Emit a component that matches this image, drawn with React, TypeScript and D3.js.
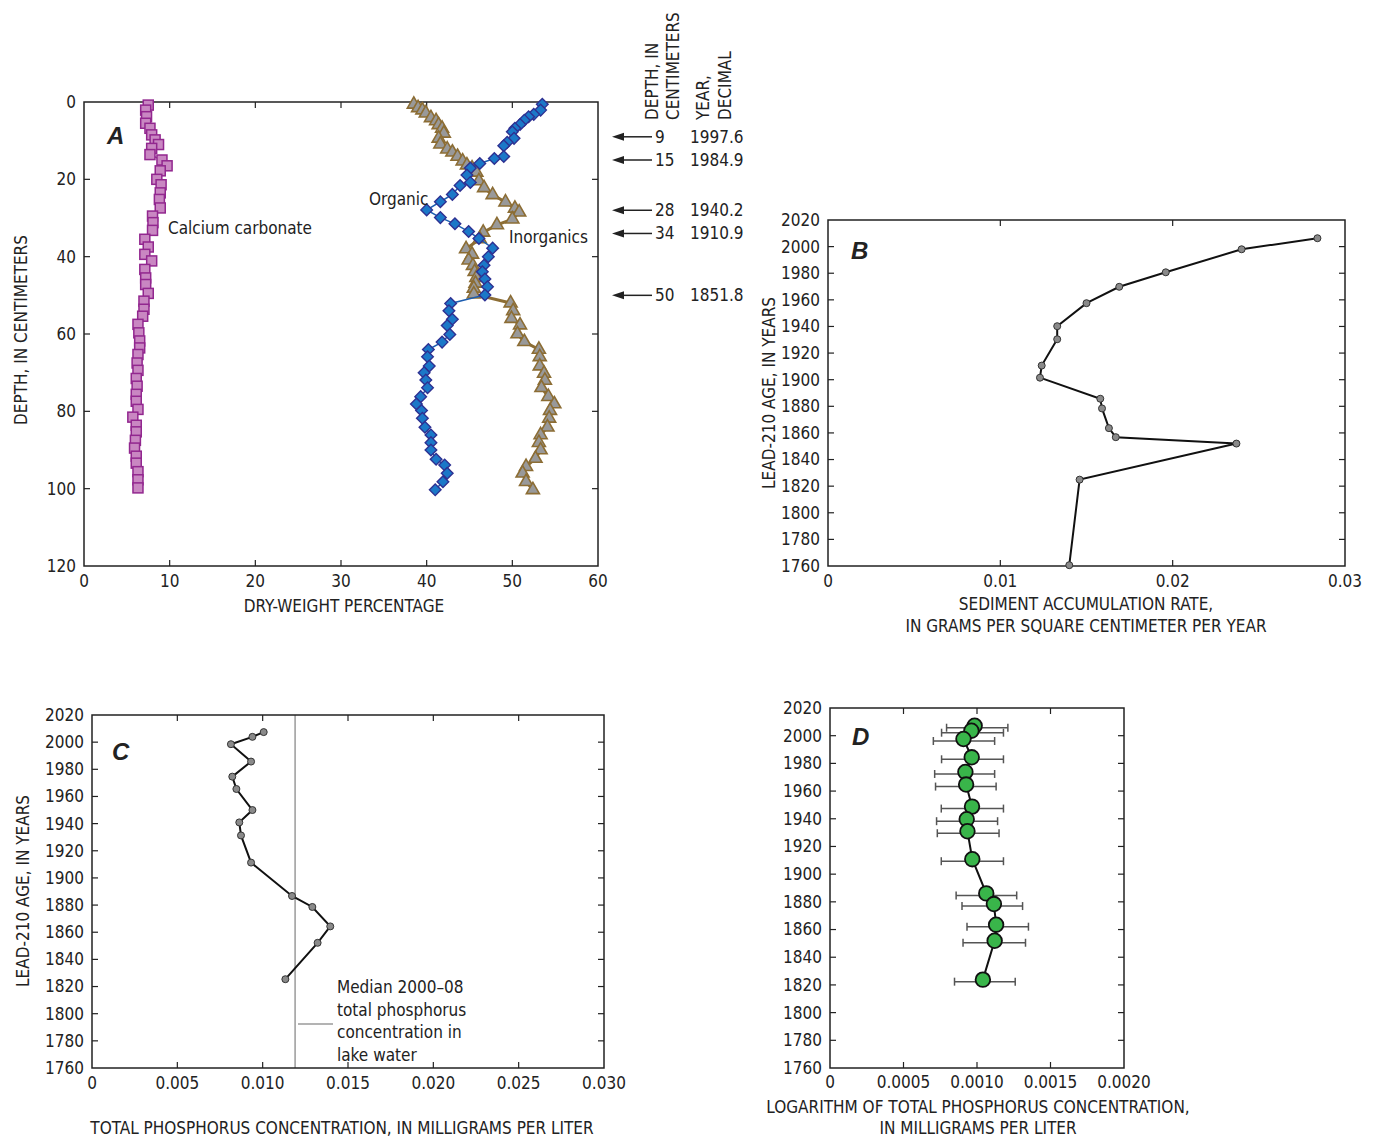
import React from 'react';
import * as d3 from 'd3';

const FONT = '"Liberation Sans Narrow", "DejaVu Sans Condensed", "Roboto", sans-serif';
const BOLD = '"Liberation Sans", "DejaVu Sans", sans-serif';

// ---- Panel A: core composition (depth in cm, dry-weight %)
const caDepth = [0.8, 2.1, 3.8, 5.5, 6.8, 8.5, 9.8, 11, 12, 13.6, 15, 16.5, 17.8, 20, 21.4, 23.5, 25.2, 27.4, 29.5, 31.2, 33.2, 35.5, 37.5, 39.4, 41.1, 43.3, 45.5, 47.2, 49.5, 51.5, 53.6, 55.4, 57.5, 59.7, 61.8, 63.6, 65.3, 67.5, 69.4, 71.5, 73.5, 75.6, 77.4, 79.5, 81.5, 83.6, 85.3, 87.5, 89.5, 91.6, 93.4, 95.6, 97.7, 99.8];
const caPct = [7.5, 7.2, 7.3, 7.2, 7.7, 7.9, 8.3, 8.7, 7.9, 7.7, 9.1, 9.7, 8.9, 8.5, 9.0, 8.9, 8.8, 8.9, 8.0, 8.05, 8.0, 7.1, 7.5, 7.1, 7.9, 7.1, 7.2, 7.2, 7.5, 7.0, 7.0, 6.85, 6.3, 6.4, 6.5, 6.5, 6.3, 6.2, 6.3, 6.1, 6.2, 6.1, 6.1, 6.3, 5.7, 6.1, 6.1, 6.0, 5.9, 6.1, 6.1, 6.3, 6.3, 6.3];

const orgDepth = [0.6, 2.1, 3.2, 3.8, 4.7, 5.8, 6.8, 7.7, 9.4, 10.4, 11.3, 14.1, 14.6, 15.9, 17.1, 18.9, 20.8, 21.6, 23.9, 25.8, 27.9, 29.9, 31.5, 33.5, 35.3, 37.8, 40.0, 42.2, 43.9, 45.8, 47.8, 49.9, 52.1, 54.0, 56.2, 57.8, 60.1, 62.1, 64.0, 65.9, 68.3, 70.0, 71.9, 73.9, 76.2, 78.1, 79.8, 81.8, 84.1, 86.1, 88.1, 90.0, 92.4, 93.9, 96.0, 98.2, 100.3];
const orgPct = [53.5, 53.3, 52.5, 51.9, 51.4, 50.9, 50.3, 50.0, 50.2, 49.4, 49.0, 49.0, 47.9, 46.2, 45.1, 44.7, 45.1, 43.9, 43.0, 41.6, 40.0, 41.6, 43.3, 44.9, 46.1, 47.7, 47.2, 46.7, 46.5, 46.8, 47.1, 46.8, 42.8, 42.6, 43.0, 42.4, 42.7, 41.8, 40.2, 40.1, 40.3, 39.7, 39.9, 40.1, 39.3, 38.8, 39.4, 39.5, 39.8, 40.5, 40.5, 40.5, 41.1, 42.1, 42.4, 41.9, 41.0];

const inoDepth = [0.6, 1.5, 2.1, 2.9, 4.1, 4.9, 5.9, 6.8, 8.1, 9.4, 10.9, 12.2, 13.0, 14.1, 15.3, 16.3, 17.1, 18.2, 20.4, 22.2, 24.0, 25.9, 27.5, 28.5, 30.3, 31.8, 33.7, 35.4, 38.0, 39.4, 40.9, 42.3, 43.9, 45.4, 46.9, 48.2, 49.7, 52.0, 54.0, 56.0, 57.7, 60.0, 62.0, 64.0, 65.9, 68.3, 70.2, 72.0, 73.9, 76.2, 78.1, 79.8, 81.8, 84.1, 86.1, 88.1, 90.0, 92.2, 94.3, 96.0, 98.2, 100.3];
const inoPct = [38.5, 39.0, 39.5, 39.9, 40.5, 41.1, 41.4, 41.8, 42.0, 41.4, 41.6, 42.4, 43.0, 43.6, 44.2, 44.7, 45.3, 45.8, 46.1, 46.7, 47.7, 49.2, 50.3, 50.8, 50.0, 48.2, 46.6, 46.2, 44.6, 45.3, 44.9, 45.4, 45.6, 45.8, 45.7, 45.5, 45.5, 49.8, 50.1, 49.9, 50.9, 50.6, 51.4, 53.1, 53.2, 53.2, 53.7, 53.8, 53.4, 54.2, 54.9, 54.4, 54.3, 54.1, 53.3, 53.1, 53.3, 52.7, 51.6, 51.2, 51.6, 52.4];

const markDepth = [9, 15, 28, 34, 50];
const markYear = ['1997.6', '1984.9', '1940.2', '1910.9', '1851.8'];

// ---- Panel B: sediment accumulation rate
const bYear = [2006.3, 1998.0, 1980.7, 1969.8, 1957.5, 1940.2, 1930.4, 1910.6, 1901.5, 1885.7, 1878.4, 1863.6, 1856.8, 1852.0, 1824.9, 1760.6];
const bRate = [0.0284, 0.0240, 0.0196, 0.0169, 0.0150, 0.0133, 0.0133, 0.0124, 0.0123, 0.0158, 0.0159, 0.0163, 0.0167, 0.0237, 0.0146, 0.0140];

// ---- Panel C: total phosphorus
const cYear = [2007.4, 2003.9, 1998.5, 1985.7, 1974.6, 1965.5, 1950.0, 1940.9, 1931.3, 1911.3, 1886.7, 1878.6, 1864.3, 1852.2, 1825.4];
const cConc = [0.01006, 0.0094, 0.00814, 0.00932, 0.00822, 0.00846, 0.0094, 0.00863, 0.00873, 0.00932, 0.01172, 0.01291, 0.01396, 0.01322, 0.01133];
const cMedian = 0.0119;

// ---- Panel D: log total phosphorus with error bars
const dYear = [2007.2, 2003.6, 1997.6, 1984.4, 1973.8, 1964.7, 1948.8, 1939.7, 1931.0, 1910.8, 1886.1, 1878.4, 1863.5, 1851.9, 1823.8];
const dVal = [0.000984, 0.000962, 0.000908, 0.000964, 0.000921, 0.000926, 0.000966, 0.00093, 0.000935, 0.000968, 0.001063, 0.001115, 0.00113, 0.00112, 0.00104];
const dLo = [0.000793, 0.000759, 0.000703, 0.000759, 0.000712, 0.000718, 0.000757, 0.000725, 0.00073, 0.000757, 0.000858, 0.000898, 0.000932, 0.000905, 0.000847];
const dHi = [0.00121, 0.00118, 0.00112, 0.00118, 0.00112, 0.00113, 0.00118, 0.00114, 0.00115, 0.00118, 0.00127, 0.00131, 0.00135, 0.00133, 0.00126];

const yearTicks = d3.range(1760, 2021, 20);

type Scale = d3.ScaleLinear<number, number>;

function Frame({ x, y, xTicks, yTicks, xFmt, labelDy = 21 }: { x: Scale; y: Scale; xTicks: number[]; yTicks: number[]; xFmt: (v: number) => string; labelDy?: number }) {
  const [x0, x1] = x.range();
  const [y1, y0] = y.range();
  const top = Math.min(y0, y1), bot = Math.max(y0, y1);
  const t = 6;
  return (
    <g>
      <rect x={x0} y={top} width={x1 - x0} height={bot - top} fill="none" stroke="#222" strokeWidth={1.5} />
      {xTicks.map((v, i) => (
        <g key={'x' + i}>
          {x(v) > x0 + 1 && x(v) < x1 - 1 && (
            <>
              <line x1={x(v)} x2={x(v)} y1={bot} y2={bot - t} stroke="#222" strokeWidth={1.2} />
              <line x1={x(v)} x2={x(v)} y1={top} y2={top + t} stroke="#222" strokeWidth={1.2} />
            </>
          )}
          <text x={x(v)} y={bot + labelDy} textAnchor="middle" fontSize={17} fontFamily={FONT} fill="#222">{xFmt(v)}</text>
        </g>
      ))}
      {yTicks.map((v, i) => (
        <g key={'y' + i}>
          {y(v) > top + 1 && y(v) < bot - 1 && (
            <>
              <line x1={x0} x2={x0 + t} y1={y(v)} y2={y(v)} stroke="#222" strokeWidth={1.2} />
              <line x1={x1} x2={x1 - t} y1={y(v)} y2={y(v)} stroke="#222" strokeWidth={1.2} />
            </>
          )}
          <text x={x0 - 8} y={y(v)} dy="0.35em" textAnchor="end" fontSize={17} fontFamily={FONT} fill="#222">{v}</text>
        </g>
      ))}
    </g>
  );
}

function PanelLetter({ x, y, s }: { x: number; y: number; s: string }) {
  return <text x={x} y={y} fontSize={24} fontWeight="bold" fontStyle="italic" fontFamily={BOLD} fill="#222">{s}</text>;
}

function PanelA() {
  const x = d3.scaleLinear().domain([0, 60]).range([84, 598]);
  const y = d3.scaleLinear().domain([0, 120]).range([102, 566]);
  const line = (dep: number[], pct: number[]) =>
    d3.line<number>().x((_, i) => x(pct[i])).y(d => y(d))(dep) || '';
  return (
    <g>
      <Frame x={x} y={d3.scaleLinear().domain([120, 0]).range([102, 566]).range([566, 102]) as Scale} xTicks={d3.range(0, 61, 10)} yTicks={[]} xFmt={v => String(v)} />
      {d3.range(0, 121, 20).map(v => (
        <g key={v}>
          {v > 0 && v < 120 && (
            <>
              <line x1={84} x2={90} y1={y(v)} y2={y(v)} stroke="#222" strokeWidth={1.2} />
              <line x1={598} x2={592} y1={y(v)} y2={y(v)} stroke="#222" strokeWidth={1.2} />
            </>
          )}
          <text x={76} y={y(v)} dy="0.35em" textAnchor="end" fontSize={17} fontFamily={FONT} fill="#222">{v}</text>
        </g>
      ))}
      <PanelLetter x={107} y={144} s="A" />

      <path d={line(caDepth, caPct)} fill="none" stroke="#92278f" strokeWidth={1.5} />
      {caDepth.map((d, i) => (
        <rect key={i} x={x(caPct[i]) - 5} y={y(d) - 5} width={10} height={10} fill="#c987c2" stroke="#92278f" strokeWidth={1.5} />
      ))}

      <path d={line(inoDepth, inoPct)} fill="none" stroke="#8c6d34" strokeWidth={3} />
      {inoDepth.map((d, i) => {
        const cx = x(inoPct[i]), cy = y(d);
        return <path key={i} d={`M${cx},${cy - 7.5}L${cx + 6.5},${cy + 3.8}L${cx - 6.5},${cy + 3.8}Z`} fill="#999" stroke="#8c6d34" strokeWidth={1.6} />;
      })}

      <path d={line(orgDepth, orgPct)} fill="none" stroke="#1c5db0" strokeWidth={1.5} />
      {orgDepth.map((d, i) => {
        const cx = x(orgPct[i]), cy = y(d), r = 5.8;
        return <path key={i} d={`M${cx},${cy - r}L${cx + r},${cy}L${cx},${cy + r}L${cx - r},${cy}Z`} fill="#1b78c8" stroke="#2e3192" strokeWidth={1.4} />;
      })}

      <text x={168} y={234} fontSize={17} fontFamily={FONT} fill="#222">Calcium carbonate</text>
      <text x={369} y={205} fontSize={17} fontFamily={FONT} fill="#222">Organic</text>
      <text x={509} y={243} fontSize={17} fontFamily={FONT} fill="#222">Inorganics</text>

      <text transform="translate(344,612)" textAnchor="middle" fontSize={17} fontFamily={FONT} fill="#222">DRY-WEIGHT PERCENTAGE</text>
      <text transform="translate(27,330) rotate(-90)" textAnchor="middle" fontSize={17} fontFamily={FONT} fill="#222">DEPTH, IN CENTIMETERS</text>

      {[['DEPTH, IN', 658], ['CENTIMETERS', 679], ['YEAR,', 709], ['DECIMAL', 731]].map(([s, bx]) => (
        <text key={s as string} transform={`translate(${bx},120) rotate(-90)`} fontSize={17} fontFamily={FONT} fill="#222">{s}</text>
      ))}
      {markDepth.map((d, i) => (
        <g key={d}>
          <line x1={652} x2={620} y1={y(d)} y2={y(d)} stroke="#222" strokeWidth={1.5} />
          <path d={`M612,${y(d)}L624,${y(d) - 4}L624,${y(d) + 4}Z`} fill="#222" />
          <text x={655} y={y(d)} dy="0.35em" fontSize={17} fontFamily={FONT} fill="#222">{d}</text>
          <text x={690} y={y(d)} dy="0.35em" fontSize={17} fontFamily={FONT} fill="#222">{markYear[i]}</text>
        </g>
      ))}
    </g>
  );
}

function PanelB() {
  const x = d3.scaleLinear().domain([0, 0.03]).range([828, 1345]);
  const y = d3.scaleLinear().domain([1760, 2020]).range([566, 220]);
  const path = d3.line<number>().x((_, i) => x(bRate[i])).y(d => y(d))(bYear) || '';
  return (
    <g>
      <Frame x={x} y={y} xTicks={[0, 0.01, 0.02, 0.03]} yTicks={yearTicks} xFmt={v => (v === 0 ? '0' : String(+v.toFixed(2)))} />
      <PanelLetter x={851} y={259} s="B" />
      <path d={path} fill="none" stroke="#111" strokeWidth={2} />
      {bYear.map((d, i) => <circle key={i} cx={x(bRate[i])} cy={y(d)} r={3.5} fill="#8a8a8a" stroke="#333" strokeWidth={1} />)}
      <text transform="translate(775,393) rotate(-90)" textAnchor="middle" fontSize={17} fontFamily={FONT} fill="#222">LEAD-210 AGE, IN YEARS</text>
      <text x={1086} y={610} textAnchor="middle" fontSize={17} fontFamily={FONT} fill="#222">SEDIMENT ACCUMULATION RATE,</text>
      <text x={1086} y={632} textAnchor="middle" fontSize={17} fontFamily={FONT} fill="#222">IN GRAMS PER SQUARE CENTIMETER PER YEAR</text>
    </g>
  );
}

function PanelC() {
  const x = d3.scaleLinear().domain([0, 0.03]).range([92, 604]);
  const y = d3.scaleLinear().domain([1760, 2020]).range([1068, 715]);
  const path = d3.line<number>().x((_, i) => x(cConc[i])).y(d => y(d))(cYear) || '';
  return (
    <g>
      <line x1={x(cMedian)} x2={x(cMedian)} y1={715} y2={1068} stroke="#9a9a9a" strokeWidth={1.5} />
      <Frame x={x} y={y} xTicks={d3.range(0, 0.0301, 0.005)} yTicks={yearTicks} xFmt={v => (v === 0 ? '0' : v.toFixed(3))} />
      <PanelLetter x={112} y={760} s="C" />
      <path d={path} fill="none" stroke="#111" strokeWidth={2} />
      {cYear.map((d, i) => <circle key={i} cx={x(cConc[i])} cy={y(d)} r={3.5} fill="#8a8a8a" stroke="#333" strokeWidth={1} />)}
      <line x1={298} x2={333} y1={1024} y2={1024} stroke="#9a9a9a" strokeWidth={1.5} />
      {['Median 2000\u201308', 'total phosphorus', 'concentration in', 'lake water'].map((s, i) => (
        <text key={s} x={337} y={993 + i * 22.5} fontSize={17} fontFamily={FONT} fill="#222">{s}</text>
      ))}
      <text transform="translate(29,891) rotate(-90)" textAnchor="middle" fontSize={17} fontFamily={FONT} fill="#222">LEAD-210 AGE, IN YEARS</text>
      <text x={342} y={1134} textAnchor="middle" fontSize={17} fontFamily={FONT} fill="#222">TOTAL PHOSPHORUS CONCENTRATION, IN MILLIGRAMS PER LITER</text>
    </g>
  );
}

function PanelD() {
  const x = d3.scaleLinear().domain([0, 0.002]).range([830, 1124]);
  const y = d3.scaleLinear().domain([1760, 2020]).range([1068, 708]);
  const path = d3.line<number>().x((_, i) => x(dVal[i])).y(d => y(d))(dYear) || '';
  return (
    <g>
      <Frame x={x} y={y} xTicks={d3.range(0, 0.00201, 0.0005)} yTicks={yearTicks} xFmt={v => (v === 0 ? '0' : v.toFixed(4))} labelDy={20} />
      <PanelLetter x={852} y={745} s="D" />
      {dYear.map((d, i) => (
        <g key={i} stroke="#555" strokeWidth={1.5}>
          <line x1={x(dLo[i])} x2={x(dHi[i])} y1={y(d) + 2} y2={y(d) + 2} />
          <line x1={x(dLo[i])} x2={x(dLo[i])} y1={y(d) - 2} y2={y(d) + 6} />
          <line x1={x(dHi[i])} x2={x(dHi[i])} y1={y(d) - 2} y2={y(d) + 6} />
        </g>
      ))}
      <path d={path} fill="none" stroke="#111" strokeWidth={2} />
      {dYear.map((d, i) => <circle key={i} cx={x(dVal[i])} cy={y(d)} r={7.3} fill="#39b54a" stroke="#111" strokeWidth={1.8} />)}
      <text x={978} y={1113} textAnchor="middle" fontSize={17} fontFamily={FONT} fill="#222">LOGARITHM OF TOTAL PHOSPHORUS CONCENTRATION,</text>
      <text x={978} y={1134} textAnchor="middle" fontSize={17} fontFamily={FONT} fill="#222">IN MILLIGRAMS PER LITER</text>
    </g>
  );
}

export default function App() {
  return (
    <svg width={1374} height={1138} style={{ position: 'absolute', left: 0, top: 0, background: '#fff' }}>
      <rect width={1374} height={1138} fill="#fff" />
      <PanelA />
      <PanelB />
      <PanelC />
      <PanelD />
    </svg>
  );
}
